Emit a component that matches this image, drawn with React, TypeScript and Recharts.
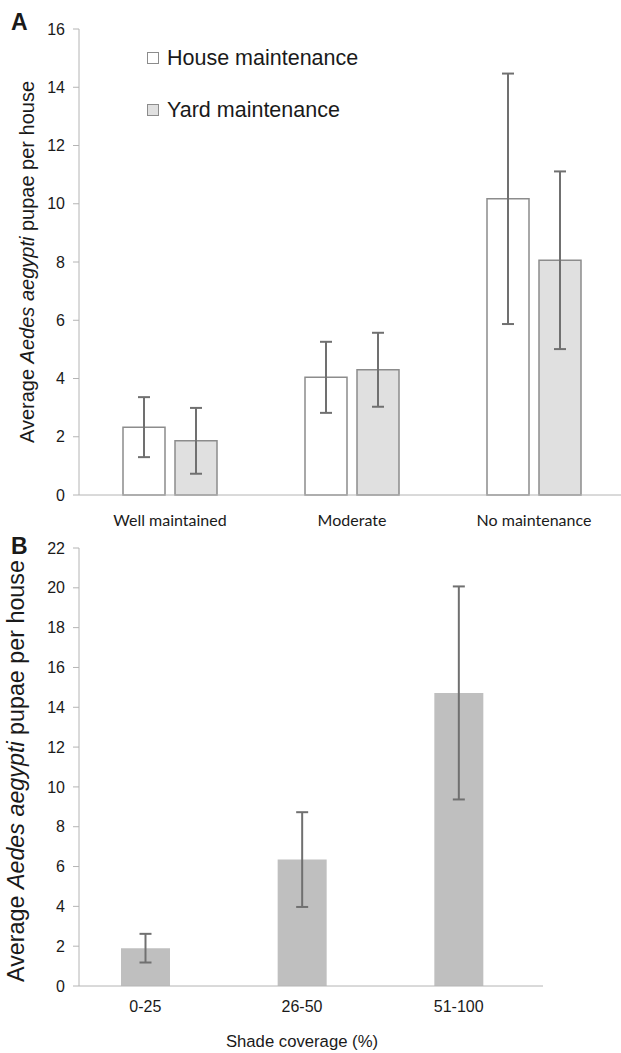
import { BarChart, Bar, XAxis, YAxis, ErrorBar, Legend, Label } from 'recharts';

const maintenanceLevels = ['Well maintained', 'Moderate', 'No maintenance'];
const houseMeans = [2.33, 4.04, 10.17];
const houseErrors = [1.03, 1.22, 4.3];
const yardMeans = [1.86, 4.3, 8.06];
const yardErrors = [1.13, 1.27, 3.05];
const maintenanceTicks = [0, 2, 4, 6, 8, 10, 12, 14, 16];

const shadeLevels = ['0-25', '26-50', '51-100'];
const shadeMeans = [1.9, 6.35, 14.72];
const shadeErrors = [0.72, 2.38, 5.35];
const shadeTicks = [0, 2, 4, 6, 8, 10, 12, 14, 16, 18, 20, 22];

const maintenanceData = maintenanceLevels.map((name, i) => ({
  name,
  house: houseMeans[i],
  houseErr: houseErrors[i],
  yard: yardMeans[i],
  yardErr: yardErrors[i],
}));

const shadeData = shadeLevels.map((name, i) => ({
  name,
  pupae: shadeMeans[i],
  pupaeErr: shadeErrors[i],
}));

const sans = '"Liberation Sans", Arial, sans-serif';
const axisGrey = '#b4b4b4';
const barEdge = '#8c8c8c';
const errGrey = '#707070';
const ink = '#1a1a1a';
const shadePad = { left: -12, right: 6 };

// rotated y label with the species name in italics
function YTitle(props: any) {
  const { viewBox, posX, size, shiftY = 0 } = props;
  const cy = viewBox.y + viewBox.height / 2 + shiftY;
  return (
    <text
      x={posX}
      y={cy}
      transform={`rotate(-90, ${posX}, ${cy})`}
      textAnchor="middle"
      dominantBaseline="central"
      fontFamily={sans}
      fontSize={size}
      fill={ink}
    >
      Average <tspan fontStyle="italic">Aedes aegypti</tspan> pupae per house
    </text>
  );
}

function XTitle(props: any) {
  const { viewBox } = props;
  const cx = viewBox.x + (viewBox.width + shadePad.left - shadePad.right) / 2;
  return (
    <text
      x={cx}
      y={viewBox.y + 55}
      textAnchor="middle"
      dominantBaseline="central"
      fontFamily={sans}
      fontSize={16.7}
      fill={ink}
    >
      Shade coverage (%)
    </text>
  );
}

function MaintenanceLegend() {
  const items = [
    { label: 'House maintenance', fill: '#ffffff' },
    { label: 'Yard maintenance', fill: '#e0e0e0' },
  ];
  return (
    <div>
      {items.map((it) => (
        <div key={it.label} style={{ display: 'flex', alignItems: 'center', height: 52 }}>
          <span
            style={{
              display: 'inline-block',
              width: 10,
              height: 10,
              background: it.fill,
              border: `1px solid ${barEdge}`,
              marginRight: 8,
            }}
          />
          <span style={{ fontFamily: sans, fontSize: 21.5, color: ink, whiteSpace: 'nowrap' }}>{it.label}</span>
        </div>
      ))}
    </div>
  );
}

const panelLetter = (top: number): any => ({
  position: 'absolute',
  left: 11,
  top,
  fontFamily: sans,
  fontWeight: 'bold',
  fontSize: 23,
  lineHeight: '23px',
  color: ink,
});

export default function App() {
  return (
    <div style={{ position: 'absolute', left: 0, top: 0, width: 621, height: 1053, overflow: 'hidden', background: '#fff' }}>
      <BarChart
        width={630}
        height={530}
        data={maintenanceData}
        margin={{ top: 29, right: 5, bottom: 0, left: 0 }}
        barGap={10}
        barSize={42}
      >
        <XAxis
          dataKey="name"
          height={35}
          tickLine={false}
          tickMargin={14}
          axisLine={{ stroke: axisGrey }}
          tick={{ fill: ink, fontSize: 16, fontFamily: 'Lato, sans-serif' }}
        />
        <YAxis
          width={79}
          domain={[0, 16]}
          ticks={maintenanceTicks}
          tickSize={6}
          tickMargin={8}
          axisLine={{ stroke: axisGrey }}
          tickLine={{ stroke: axisGrey }}
          tick={{ fill: ink, fontSize: 16, fontFamily: sans }}
        >
          <Label content={<YTitle posX={27} size={20} />} />
        </YAxis>
        <Legend
          layout="horizontal"
          verticalAlign="middle"
          align="center"
          content={<MaintenanceLegend />}
          wrapperStyle={{ top: 32, left: 147, width: 'auto' }}
        />
        <Bar dataKey="house" fill="#ffffff" stroke={barEdge} strokeWidth={1.5} isAnimationActive={false}>
          <ErrorBar dataKey="houseErr" width={6} strokeWidth={2} stroke={errGrey} />
        </Bar>
        <Bar dataKey="yard" fill="#e0e0e0" stroke={barEdge} strokeWidth={1.5} isAnimationActive={false}>
          <ErrorBar dataKey="yardErr" width={6} strokeWidth={2} stroke={errGrey} />
        </Bar>
      </BarChart>
      <div style={panelLetter(11)}>A</div>

      <div style={{ position: 'absolute', left: 0, top: 528 }}>
        <BarChart
          width={621}
          height={525}
          data={shadeData}
          margin={{ top: 20, right: 78, bottom: 0, left: 0 }}
          barSize={49}
        >
          <XAxis
            dataKey="name"
            height={67}
            padding={shadePad}
            tickLine={false}
            tickMargin={9}
            axisLine={{ stroke: axisGrey }}
            tick={{ fill: ink, fontSize: 16, fontFamily: sans }}
          >
            <Label content={<XTitle />} />
          </XAxis>
          <YAxis
            width={79}
            domain={[0, 22]}
            ticks={shadeTicks}
            tickSize={6}
            tickMargin={8}
            axisLine={{ stroke: axisGrey }}
            tickLine={{ stroke: axisGrey }}
            tick={{ fill: ink, fontSize: 16, fontFamily: sans }}
          >
            <Label content={<YTitle posX={16} size={23.3} shiftY={4} />} />
          </YAxis>
          <Bar dataKey="pupae" fill="#bfbfbf" isAnimationActive={false}>
            <ErrorBar dataKey="pupaeErr" width={6} strokeWidth={2} stroke={errGrey} />
          </Bar>
        </BarChart>
      </div>
      <div style={panelLetter(535)}>B</div>
    </div>
  );
}
